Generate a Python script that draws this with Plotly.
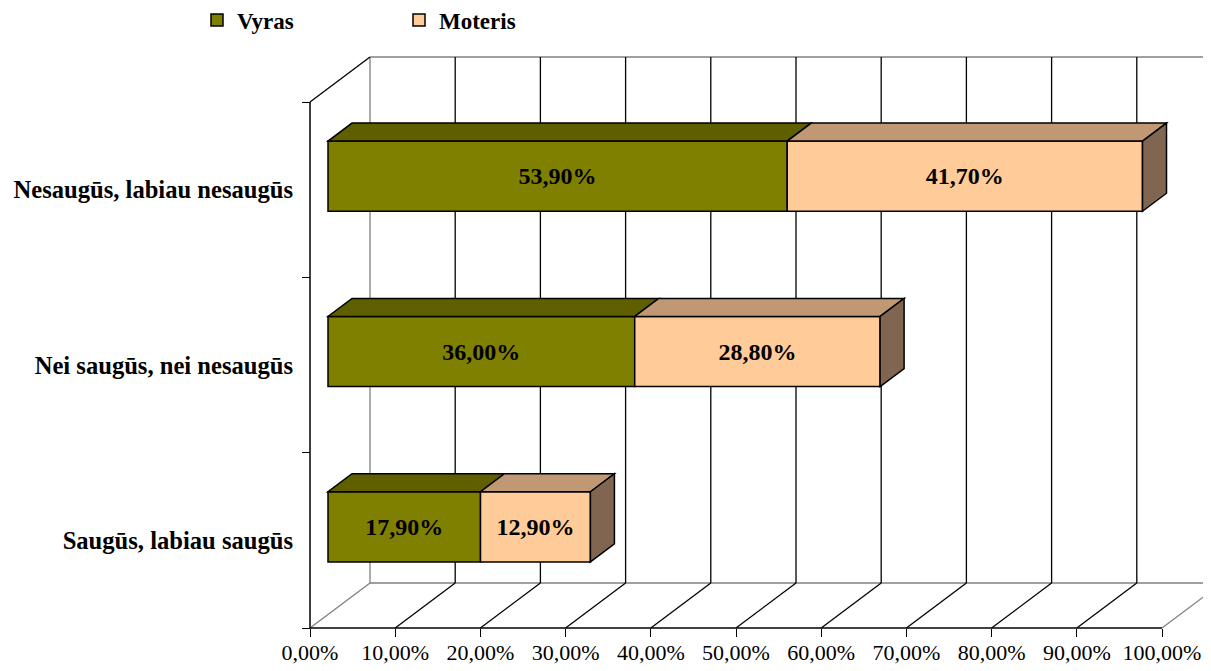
import plotly.graph_objects as go

# ---- data ----
categories = ["Saugūs, labiau saugūs", "Nei saugūs, nei nesaugūs", "Nesaugūs, labiau nesaugūs"]
vyras = [17.9, 36.0, 53.9]
moteris = [12.9, 28.8, 41.7]
x_tick_values = [0, 10, 20, 30, 40, 50, 60, 70, 80, 90, 100]
series_names = ["Vyras", "Moteris"]

# ---- geometry (pseudo 3D) ----
PAGE_MARGIN = 8               # default browser body margin
W, H = 1211 - PAGE_MARGIN, 671 - PAGE_MARGIN
X0_PX, PX_PER_PCT = 310 - PAGE_MARGIN, 8.52
Y0_PX, PX_PER_CAT = 628 - PAGE_MARGIN, 175.33
DX = 60 / PX_PER_PCT          # depth offset in % units
DY = 45 / PX_PER_CAT          # depth offset in category units
FRONT = 0.3                   # bar front at 30% depth
THICK = 0.4                   # bar depth thickness
BAR_H = 0.4                   # bar height (category units)
n_cat = len(categories)
xmax = x_tick_values[-1]

front_col = ["#808000", "#FFCC99"]
top_col = ["#5F5F00", "#C09874"]
side_col = ["#5F5F00", "#806650"]
GRAY = "#808080"
FONT = "Liberation Serif"

xr = [-X0_PX / PX_PER_PCT, (W - X0_PX) / PX_PER_PCT]
yr = [(Y0_PX - H) / PX_PER_CAT, Y0_PX / PX_PER_CAT]

shapes = []

def line(x0, y0, x1, y1, color="black", width=1.3, layer="below"):
    shapes.append(dict(type="line", xref="x", yref="y", x0=x0, y0=y0, x1=x1, y1=y1,
                       line=dict(color=color, width=width), layer=layer))

def poly(pts, fill, layer="above"):
    path = "M " + " L ".join(f"{px},{py}" for px, py in pts) + " Z"
    shapes.append(dict(type="path", xref="x", yref="y", path=path, fillcolor=fill,
                       line=dict(color="black", width=1.5), layer=layer))

# back wall edges (gray)
line(DX, DY, DX, n_cat + DY, GRAY)
line(DX, n_cat + DY, xmax + DX + 20, n_cat + DY, GRAY)
line(DX, DY, xmax + DX + 20, DY, GRAY)
# back wall gridlines and floor diagonals
for v in x_tick_values:
    if v > 0:
        line(v + DX, DY, v + DX, n_cat + DY, "black")
    col = GRAY if v in (0, xmax) else "black"
    line(v, 0, v + DX, DY, col)
# left wall top diagonal
line(0, n_cat, DX, n_cat + DY, "black")
# front axes
line(0, 0, xmax, 0, "black", 1.5)
line(0, 0, 0, n_cat, "black", 1.5)

# ---- bars (front faces as bar traces) ----
yc = [i + 0.5 + FRONT * DY for i in range(n_cat)]
bases = [[FRONT * DX] * n_cat, [FRONT * DX + v for v in vyras]]
vals = [vyras, moteris]

fig = go.Figure()
for s in range(2):
    fig.add_trace(go.Bar(
        orientation="h", y=yc, x=vals[s], base=bases[s], width=BAR_H,
        name=series_names[s],
        marker=dict(color=front_col[s], line=dict(color="black", width=1.5)),
        text=[f"{v:.2f}%".replace(".", ",") for v in vals[s]],
        textposition="inside", insidetextanchor="middle", constraintext="none",
        textfont=dict(family=FONT, size=24, color="black", weight="bold"),
        hoverinfo="skip",
    ))

# top faces and side faces
for i in range(n_cat):
    top = yc[i] + BAR_H / 2
    bot = yc[i] - BAR_H / 2
    ddx, ddy = THICK * DX, THICK * DY
    for s in range(2):
        x0 = bases[s][i]
        x1 = x0 + vals[s][i]
        poly([(x0, top), (x1, top), (x1 + ddx, top + ddy), (x0 + ddx, top + ddy)], top_col[s])
    x1 = bases[1][i] + moteris[i]
    poly([(x1, bot), (x1 + ddx, bot + ddy), (x1 + ddx, top + ddy), (x1, top)], side_col[1])

fig.update_layout(
    width=W, height=H,
    margin=dict(l=0, r=0, t=0, b=0, autoexpand=False),
    paper_bgcolor="white", plot_bgcolor="white",
    barmode="overlay",
    separators=",.",
    shapes=shapes,
    showlegend=True,
    legend=dict(orientation="h", x=(197 - PAGE_MARGIN) / W, y=1 - (20 - PAGE_MARGIN) / H,
                xanchor="left", yanchor="middle",
                entrywidth=157, entrywidthmode="pixels",
                font=dict(family=FONT, size=23, color="black", weight="bold"),
                bgcolor="rgba(0,0,0,0)"),
    xaxis=dict(range=xr, anchor="free", position=(H - Y0_PX) / H,
               showgrid=False, zeroline=False, showline=False,
               tickmode="array", tickvals=x_tick_values,
               ticktext=[f"{v:.2f}%".replace(".", ",") for v in x_tick_values],
               ticks="outside", ticklen=8, tickwidth=1.3, tickcolor="black",
               ticklabelstandoff=-3,
               tickfont=dict(family=FONT, size=22, color="black")),
    yaxis=dict(range=yr, anchor="free", position=X0_PX / W,
               showgrid=False, zeroline=False, showline=False,
               tickmode="array", tickvals=[i + 0.5 for i in range(n_cat)],
               ticktext=categories, ticks="", ticklabelstandoff=17,
               minor=dict(tickmode="array", tickvals=list(range(n_cat + 1)),
                          ticks="outside", ticklen=8, tickwidth=1.3, tickcolor="black"),
               tickfont=dict(family=FONT, size=24.6, color="black", weight="bold")),
)

fig.write_html("out.html")
